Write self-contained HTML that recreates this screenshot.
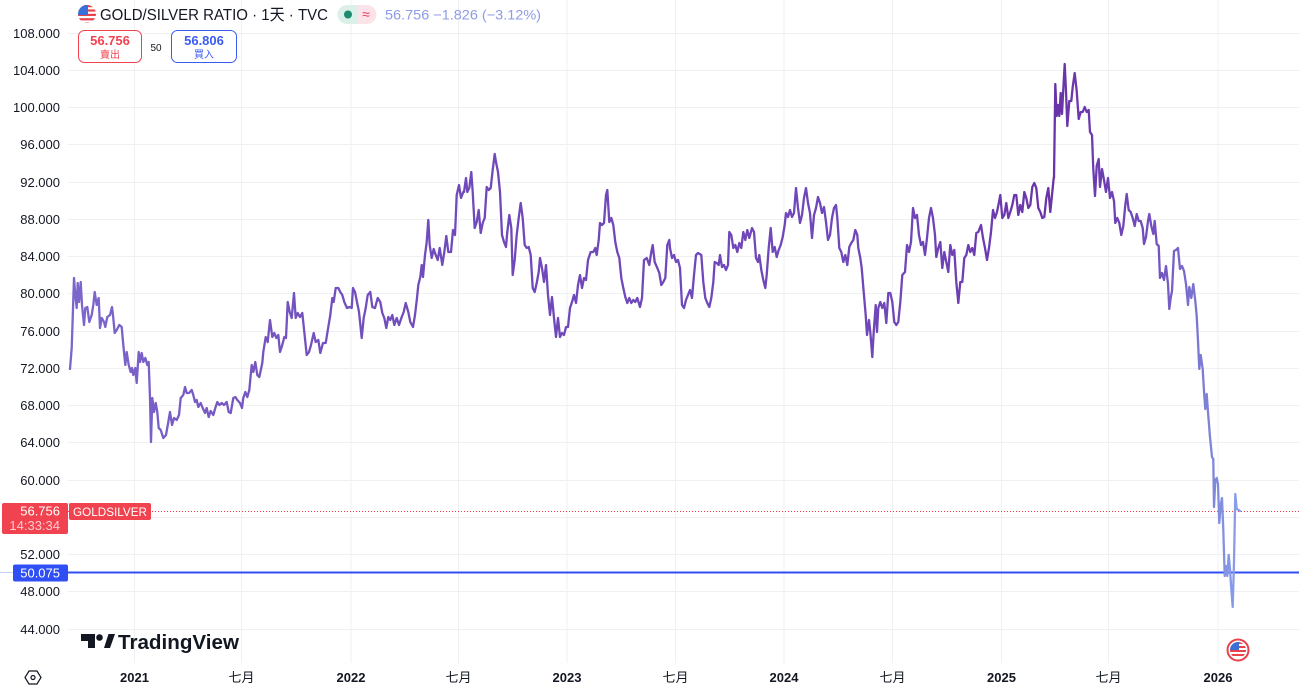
<!DOCTYPE html>
<html><head><meta charset="utf-8">
<style>
html,body{margin:0;padding:0;background:#fff;}
svg{display:block;}
text{font-family:"Liberation Sans","Noto Sans CJK SC",sans-serif;}
</style></head>
<body>
<svg width="1299" height="691" viewBox="0 0 1299 691" xmlns="http://www.w3.org/2000/svg">
<defs>
<linearGradient id="lg" gradientUnits="userSpaceOnUse" x1="69" y1="0" x2="1240" y2="0">
<stop offset="0" stop-color="#7c66cc"/>
<stop offset="0.2" stop-color="#7352be"/>
<stop offset="0.37" stop-color="#6f48b9"/>
<stop offset="0.71" stop-color="#6f47b9"/>
<stop offset="0.84" stop-color="#6a33a8"/>
<stop offset="0.88" stop-color="#6d3cb0"/>
<stop offset="0.93" stop-color="#7353bf"/>
<stop offset="0.96" stop-color="#7b72cf"/>
<stop offset="0.978" stop-color="#8088da"/>
<stop offset="1" stop-color="#8aa2ee"/>
</linearGradient>
<clipPath id="fc1"><circle cx="87" cy="14" r="9"/></clipPath>
<clipPath id="fc2"><circle cx="1238" cy="650" r="8"/></clipPath>
</defs>

<!-- grid -->
<g stroke="#eef0f4" stroke-width="1">
<line x1="68" x2="1299" y1="33.5" y2="33.5"/>
<line x1="68" x2="1299" y1="70.5" y2="70.5"/>
<line x1="68" x2="1299" y1="107.5" y2="107.5"/>
<line x1="68" x2="1299" y1="144.5" y2="144.5"/>
<line x1="68" x2="1299" y1="182.5" y2="182.5"/>
<line x1="68" x2="1299" y1="219.5" y2="219.5"/>
<line x1="68" x2="1299" y1="256.5" y2="256.5"/>
<line x1="68" x2="1299" y1="293.5" y2="293.5"/>
<line x1="68" x2="1299" y1="331.5" y2="331.5"/>
<line x1="68" x2="1299" y1="368.5" y2="368.5"/>
<line x1="68" x2="1299" y1="405.5" y2="405.5"/>
<line x1="68" x2="1299" y1="442.5" y2="442.5"/>
<line x1="68" x2="1299" y1="480.5" y2="480.5"/>
<line x1="68" x2="1299" y1="517.5" y2="517.5"/>
<line x1="68" x2="1299" y1="554.5" y2="554.5"/>
<line x1="68" x2="1299" y1="591.5" y2="591.5"/>
<line x1="68" x2="1299" y1="629.5" y2="629.5"/>
<line x1="134.5" x2="134.5" y1="0" y2="663"/>
<line x1="241.5" x2="241.5" y1="0" y2="663"/>
<line x1="351" x2="351" y1="0" y2="663"/>
<line x1="458.5" x2="458.5" y1="0" y2="663"/>
<line x1="567" x2="567" y1="0" y2="663"/>
<line x1="675.5" x2="675.5" y1="0" y2="663"/>
<line x1="784" x2="784" y1="0" y2="663"/>
<line x1="892.5" x2="892.5" y1="0" y2="663"/>
<line x1="1001.5" x2="1001.5" y1="0" y2="663"/>
<line x1="1108.5" x2="1108.5" y1="0" y2="663"/>
<line x1="1218" x2="1218" y1="0" y2="663"/>
</g>

<!-- price lines -->
<line x1="68" x2="1299" y1="511.5" y2="511.5" stroke="#f23645" stroke-width="1" stroke-dasharray="1,2"/>
<line x1="0" x2="13" y1="572.5" y2="572.5" stroke="#c7d2fc" stroke-width="1"/>
<line x1="68" x2="1299" y1="572.5" y2="572.5" stroke="#2f4ff5" stroke-width="2"/>

<!-- series -->
<polyline fill="none" stroke="url(#lg)" stroke-width="2.3" stroke-linejoin="round" stroke-linecap="round" points="70,369 71.7,348 72.7,318 74,278 75.3,295 76.7,308 77.7,283 79,302 80.7,282 82,305 84,325 85.3,308 87.3,307 89.3,322 91.7,315 93.3,305 94.7,292 96.7,305 98.7,298 100,328 101.7,318 104,322 105.3,327 107.3,317 110,315 112,307 113.3,318 114.7,333 116.7,330 119.3,325 121.7,327 123.3,345 125.3,365 126.7,352 128.7,365 130.7,372 132,368 133.3,375 135.3,368 136.7,383 138.7,352 140,362 141.7,353 143.3,362 145.3,358 147.3,365 148.7,362 150,398 151,442 152.3,398 154,412 155.7,403 157.3,412 158.7,428 160.7,430 163.3,438 166,435 168.3,422 170,412 172,425 174,418 176.7,420 179,415 180.7,398 183.3,395 185,387 186.7,393 189,393 191.7,390 193.3,395 195,402 196.7,400 198.3,407 200.7,403 202.7,408 205,413 206.7,408 208.7,417 210.7,411 213.3,415 215.3,408 217.3,402 219.3,405 221.7,403 224,405 226.7,402 228.7,412 230.7,413 233.3,398 235.3,397 237.3,400 240,403 242,408 243.3,398 245.3,392 247.3,397 249.3,390 251.7,365 253.3,372 255.3,362 257.3,375 259.3,377 262.3,363 263.3,352 265.7,337 267.7,342 270,320 272.3,337 274.3,333 276.3,338 278.3,335 280,352 282.3,345 284.3,337 286,338 287.7,302 289.7,312 291.7,318 294,293 295.7,318 297.7,313 300,317 302.3,313 304.3,332 306.7,355 309,352 311,345 313.7,333 315.7,342 318.3,340 320.3,353 323,343 325.7,343 328.3,327 330.3,315 332.3,298 333.7,302 335.7,288 338.3,288 340.3,292 342.3,295 344.3,302 347,308 349.7,307 351.7,308 353,288 355,292 357,302 359,312 361.7,338 363.7,318 365.7,308 367.7,295 370.3,292 372.3,307 375,308 377.7,298 380.3,302 382.3,313 384.3,318 386.3,328 388.3,317 390.3,320 392.3,315 394.3,325 396.7,318 399,325 401.7,317 403.7,312 405.7,303 408.3,312 410.3,322 413,327 415,315 417,298 418.3,285 420.3,277 421.7,265 423,277 425,255 426.7,242 428.3,220 429.7,245 431.7,258 433.7,249 435.7,255 437.7,260 439.7,248 442.3,265 444.3,252 446.3,236 448.3,252 451,252 453,230 455,235 456.7,195 459,185 461,198 463.3,192 464,192 466,178 467.3,192 469.3,188 471.3,172 472.7,192 474.7,228 476.7,222 478.7,210 480.7,233 482.7,223 484.7,218 486.7,187 488.7,190 490.7,188 492.7,170 494.7,154 496,162 498,172 500,192 502,235 504,242 506,247 507.3,232 509.3,215 511.3,228 512.7,275 514.7,260 516.7,235 518.7,218 520.7,203 522.7,218 524.7,245 526.7,248 528.7,247 530.7,255 532.7,288 534.7,292 536.7,283 538.7,272 540,258 542,268 544,282 546,265 548,295 550,315 552,297 554,318 556,337 558,318 560,337 562,333 564,335 566,327 568,327 570,308 572,302 574,295 576,303 578,285 580,275 582,288 584,278 586,280 588,260 590.7,252 593.3,252 595.3,248 596.7,255 598.7,240 600,223 602,225 604,223 606,195 607.3,190 609.3,222 611.3,218 613.3,225 615.3,242 617.3,252 619.3,258 621.3,278 623.3,288 625.3,297 627.3,303 629.3,298 631.3,303 633.3,300 635.3,302 637.3,298 640,307 642,298 644,260 646.7,258 649.3,265 651.3,252 652.7,245 654.7,262 657.3,268 659.3,273 661.3,285 663.3,282 665.3,278 667.3,245 669.3,240 670,248 672,258 674,255 676,262 678,260 680,268 682,305 684,308 686,300 688,295 690,290 692,298 694,275 696,255 698,253 701.3,255 703.3,282 705.3,298 707.3,303 709.3,307 711.3,298 713.3,282 714.7,262 716.7,263 718.7,265 720,255 722,267 724,265 726,270 728,265 729.3,232 731.3,235 733.3,248 735.3,245 737.3,252 739.3,243 741.3,248 743.3,232 745.3,240 747.3,230 749.3,238 752,228 754,232 756,258 758,262 759.3,255 761.3,270 763.3,280 765.3,288 766.7,275 768.7,248 770.7,228 772.7,252 774.7,247 776.7,257 778.7,250 780.7,245 782.7,237 784.7,225 786,213 788,217 790,210 792,217 794,213 796,188 798,208 800,223 802,215 804,198 806,188 808,203 810,213 812,238 814,215 816,208 818,197 820,203 822,213 824,207 826,222 828,240 830,235 832,218 834,208 836,205 837.3,218 839.3,248 841.3,252 843.3,262 845.3,255 847.3,265 849.3,247 851.3,243 853.3,240 855.3,230 857.3,235 858.3,248 860.3,258 861.7,268 863.7,292 865.7,315 867,335 869,320 870.3,332 872.3,357 873.7,332 875.7,305 877,332 878.3,308 880.3,302 882.3,308 884.3,303 886.3,323 888.3,293 890.3,293 892.3,302 894.3,322 896.3,325 898.3,322 900.3,302 902.3,275 905,272 907,245 909,252 911,242 913,208 915,218 917,215 919,235 921,245 923,242 925,255 927,238 929,218 931,208 933,218 935,235 936.3,257 938.3,248 940.3,242 942.3,268 944.3,252 946.3,262 948.3,272 950.3,245 952.3,255 954.3,250 956.3,282 958.3,303 960.3,282 962.3,282 964.3,258 966.3,255 968.3,245 970.3,252 972.3,248 974.3,255 976.3,233 978.3,232 981,225 983,238 985,248 987,260 989,248 991,232 993,210 995,218 997,212 999,202 1000.3,195 1002.3,218 1004.3,215 1006.3,203 1008.3,218 1010.3,212 1012.3,205 1014.3,195 1016.3,195 1018.3,215 1020.3,205 1022.3,212 1024.3,192 1026.3,198 1028.3,208 1030.3,205 1032.3,187 1034.3,183 1036.3,188 1038.3,208 1040.3,212 1042.3,218 1044.3,217 1046.3,198 1048.3,188 1050.3,212 1052.3,192 1053.7,178 1054,178 1055.3,84 1056.7,116 1058,105 1059.3,116 1060.7,93 1062,114 1063.3,89 1064.7,64 1066,91 1067.3,126 1069.3,101 1071.3,101 1072.7,87 1074.7,73 1076.7,91 1078.7,119 1080.7,112 1082.7,112 1084.7,107 1086.7,112 1088.7,110 1090,132 1092,135 1093.3,169 1095,196 1096.7,166 1098.7,159 1100,187 1102,169 1104,180 1106,192 1108,178 1110,198 1112,192 1114,201 1115.3,223 1117.3,218 1119.3,223 1121.3,235 1123.3,226 1125.3,205 1126.7,194 1128.7,210 1130.7,212 1132.7,218 1134.7,226 1136.7,214 1138.7,221 1140.7,221 1142.7,228 1144,244 1146,237 1148,221 1149.3,214 1151.3,226 1153.3,234 1154.7,221 1156.7,244 1158.7,246 1160,278 1162,273 1164,280 1166,266 1168,284 1169.3,309 1170.7,298 1172,291 1174,251 1176,250 1178,248 1180,269 1182,266 1184,271 1186,284 1188,305 1189.3,287 1191.3,298 1193.3,284 1195.3,301 1196.7,316 1198,341 1199.3,369 1200.7,355 1202.7,369 1204,391 1205.3,409 1206.7,394 1208,412 1210,437 1212,457 1213.3,459 1214,507 1215.3,480 1216.7,478 1218,484 1219.3,523 1220.7,505 1222,498 1223.3,530 1224.7,576 1226,566 1227.3,576 1228.7,555 1230,569 1231.3,589 1232.7,607 1234,562 1235.3,494 1236.7,509 1238.7,510 1240,511"/>

<!-- left axis labels -->
<g font-size="13" fill="#131722" text-anchor="end">
<text x="60" y="38">108.000</text>
<text x="60" y="75">104.000</text>
<text x="60" y="112">100.000</text>
<text x="60" y="149">96.000</text>
<text x="60" y="187">92.000</text>
<text x="60" y="224">88.000</text>
<text x="60" y="261">84.000</text>
<text x="60" y="298">80.000</text>
<text x="60" y="336">76.000</text>
<text x="60" y="373">72.000</text>
<text x="60" y="410">68.000</text>
<text x="60" y="447">64.000</text>
<text x="60" y="485">60.000</text>
<text x="60" y="559">52.000</text>
<text x="60" y="596">48.000</text>
<text x="60" y="634">44.000</text>
</g>

<!-- current price label -->
<rect x="2" y="503" width="66" height="31" rx="2" fill="#f0434f"/>
<text x="60" y="515.5" font-size="13" fill="#ffffff" text-anchor="end">56.756</text>
<text x="60" y="530" font-size="13" fill="#fbc9cd" text-anchor="end">14:33:34</text>
<rect x="69" y="503" width="82" height="17" rx="2" fill="#f0434f"/>
<text x="73" y="516" font-size="12" fill="#ffffff" textLength="74" lengthAdjust="spacingAndGlyphs">GOLDSILVER</text>

<!-- blue level label -->
<rect x="13" y="564.5" width="55" height="17" rx="2" fill="#2f4ff5"/>
<text x="60" y="577.5" font-size="13" fill="#ffffff" text-anchor="end">50.075</text>

<!-- header -->
<g clip-path="url(#fc1)">
<rect x="78" y="5" width="18" height="18" fill="#ffffff"/>
<rect x="78" y="5" width="18" height="2.2" fill="#e8424b"/>
<rect x="78" y="9.4" width="18" height="2.2" fill="#e8424b"/>
<rect x="78" y="13.8" width="18" height="2.2" fill="#e8424b"/>
<rect x="78" y="18.2" width="18" height="2.2" fill="#e8424b"/>
<rect x="78" y="22.6" width="18" height="2.2" fill="#e8424b"/>
<rect x="78" y="5" width="10" height="10" fill="#3b6fd8"/>
</g>
<text x="100" y="20" font-size="16" fill="#131722" textLength="228" lengthAdjust="spacingAndGlyphs">GOLD/SILVER RATIO · 1天 · TVC</text>
<path d="M347,5 H357 V24 H347 A9.5,9.5 0 0 1 347,5 Z" fill="#dbf0e9"/>
<path d="M357,5 H367 A9.5,9.5 0 0 1 367,24 H357 Z" fill="#fce3e9"/>
<circle cx="348" cy="14.5" r="4" fill="#1e8a6e"/>
<text x="366" y="19" font-size="14" fill="#e83a5c" text-anchor="middle">≈</text>
<text x="385" y="19.5" font-size="14" fill="#8e9be6" textLength="156" lengthAdjust="spacingAndGlyphs">56.756  −1.826 (−3.12%)</text>

<!-- buy/sell -->
<rect x="78.5" y="30.5" width="63" height="32" rx="6" fill="#ffffff" stroke="#f0434f" stroke-width="1"/>
<text x="110" y="45" font-size="13" font-weight="bold" fill="#f0434f" text-anchor="middle">56.756</text>
<text x="110" y="58" font-size="10" fill="#f0434f" text-anchor="middle">賣出</text>
<text x="156" y="51" font-size="10" fill="#131722" text-anchor="middle">50</text>
<rect x="171.5" y="30.5" width="65" height="32" rx="6" fill="#ffffff" stroke="#3b5cf0" stroke-width="1"/>
<text x="204" y="45" font-size="13" font-weight="bold" fill="#3b5cf0" text-anchor="middle">56.806</text>
<text x="204" y="58" font-size="10" fill="#3b5cf0" text-anchor="middle">買入</text>

<!-- TradingView logo -->
<path d="M81,634 H95 V648 H88 V641 H81 Z" fill="#131722"/>
<circle cx="99.5" cy="637.5" r="3.3" fill="#131722"/>
<path d="M104,648 L108.5,634 H115 L110,648 Z" fill="#131722"/>
<text x="118" y="649" font-size="20.5" font-weight="bold" fill="#131722" textLength="121" lengthAdjust="spacingAndGlyphs">TradingView</text>

<!-- bottom flag -->
<circle cx="1238" cy="650" r="10.5" fill="#ffffff" stroke="#e8424b" stroke-width="2"/>
<g clip-path="url(#fc2)">
<rect x="1230" y="642" width="16" height="16" fill="#ffffff"/>
<rect x="1230" y="642" width="16" height="2" fill="#e8424b"/>
<rect x="1230" y="646" width="16" height="2" fill="#e8424b"/>
<rect x="1230" y="650" width="16" height="2" fill="#e8424b"/>
<rect x="1230" y="654" width="16" height="2" fill="#e8424b"/>
<rect x="1230" y="642" width="9" height="8" fill="#3b6fd8"/>
</g>

<!-- settings icon -->
<path d="M29,671 L37,671 L41,677.5 L37,684 L29,684 L25,677.5 Z" fill="none" stroke="#131722" stroke-width="1.2"/>
<circle cx="33" cy="677.5" r="2" fill="none" stroke="#131722" stroke-width="1.2"/>

<!-- time axis -->
<g font-size="13" fill="#131722" text-anchor="middle">
<text x="134.5" y="682" font-weight="bold">2021</text>
<text x="241.5" y="682">七月</text>
<text x="351" y="682" font-weight="bold">2022</text>
<text x="458.5" y="682">七月</text>
<text x="567" y="682" font-weight="bold">2023</text>
<text x="675.5" y="682">七月</text>
<text x="784" y="682" font-weight="bold">2024</text>
<text x="892.5" y="682">七月</text>
<text x="1001.5" y="682" font-weight="bold">2025</text>
<text x="1108.5" y="682">七月</text>
<text x="1218" y="682" font-weight="bold">2026</text>
</g>
</svg>
</body></html>
